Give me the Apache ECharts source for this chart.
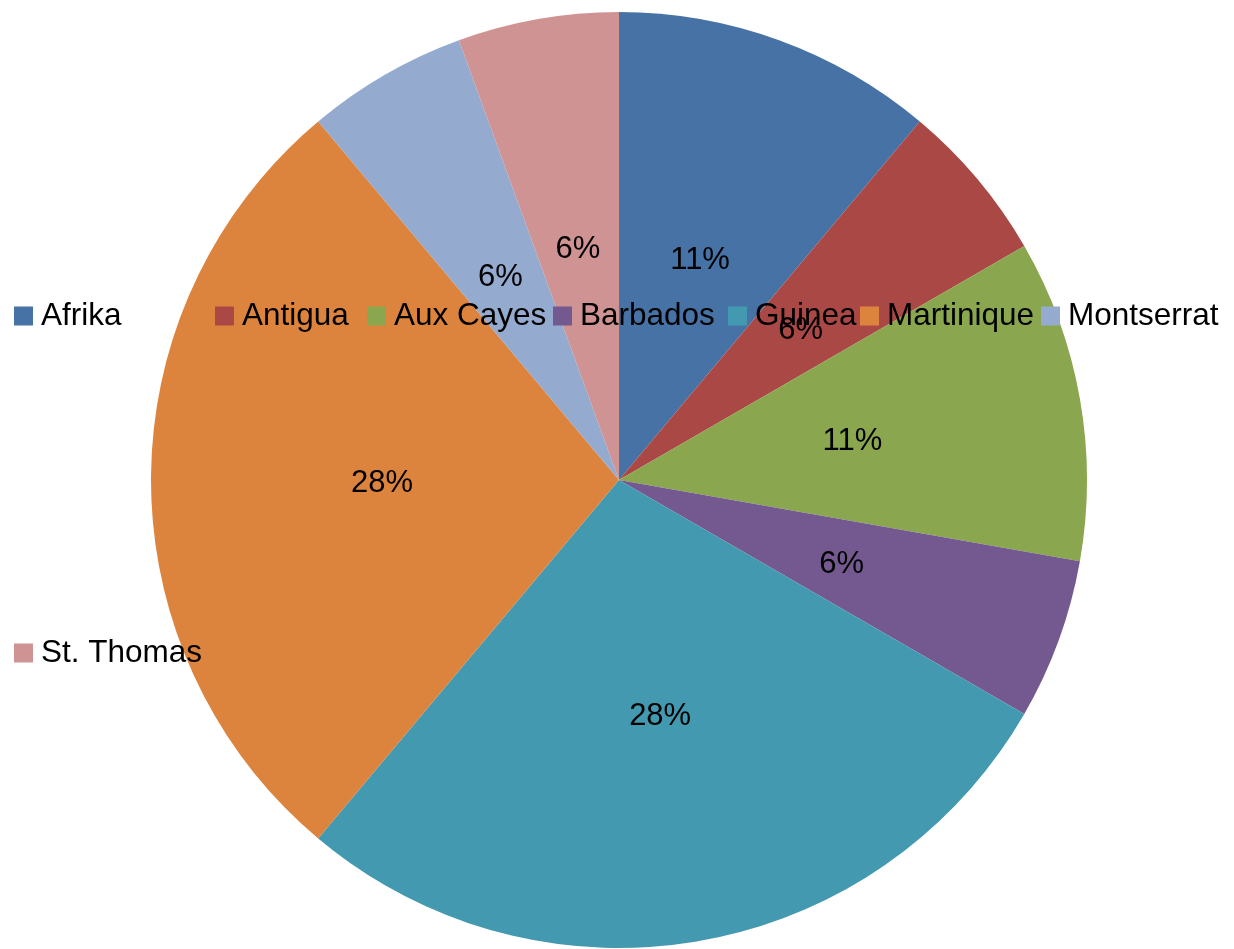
<!DOCTYPE html>
<html>
<head>
<meta charset="utf-8">
<script src="https://cdn.jsdelivr.net/npm/echarts@6/dist/echarts.min.js"></script>
<style>
  html, body { margin: 0; padding: 0; background: #fff; }
  #chart { width: 1234px; height: 949px; }
</style>
</head>
<body>
<div id="chart"></div>
<script>
// data
var places = ['Afrika', 'Antigua', 'Aux Cayes', 'Barbados', 'Guinea', 'Martinique', 'Montserrat', 'St. Thomas'];
var counts = [2, 1, 2, 1, 5, 5, 1, 1];
var colors = ['#4672a5', '#aa4845', '#8aa64f', '#73598f', '#4299b0', '#dc843e', '#94aacf', '#d09393'];

// legend positions (each entry placed by hand like in the original)
var legendLeft = [14, 215, 367, 553, 728, 860, 1041, 14];
var legendTop = [300, 300, 300, 300, 300, 300, 300, 637];

var total = counts.reduce(function (a, b) { return a + b; }, 0);

var chart = echarts.init(document.getElementById('chart'));

var legends = places.map(function (name, i) {
  return {
    data: [name],
    left: legendLeft[i],
    top: legendTop[i],
    padding: 0,
    icon: 'rect',
    itemWidth: 19,
    itemHeight: 19,
    selectedMode: false,
    textStyle: {
      color: '#000',
      fontSize: 31.5,
      fontFamily: 'Liberation Sans',
      padding: [0, 0, 0, 3]
    }
  };
});

var option = {
  animation: false,
  color: colors,
  legend: legends,
  series: [{
    type: 'pie',
    center: [619, 480],
    radius: 468,
    startAngle: 90,
    clockwise: true,
    avoidLabelOverlap: false,
    itemStyle: { borderWidth: 0 },
    label: {
      show: true,
      position: 'inner',
      color: '#000',
      fontSize: 31,
      fontFamily: 'Liberation Sans',
      offset: [0, 3],
      formatter: function (p) {
        return Math.round(p.value / total * 100) + '%';
      }
    },
    labelLine: { show: false },
    emphasis: { disabled: true },
    data: places.map(function (name, i) {
      return { name: name, value: counts[i] };
    })
  }]
};

chart.setOption(option);
</script>
</body>
</html>
